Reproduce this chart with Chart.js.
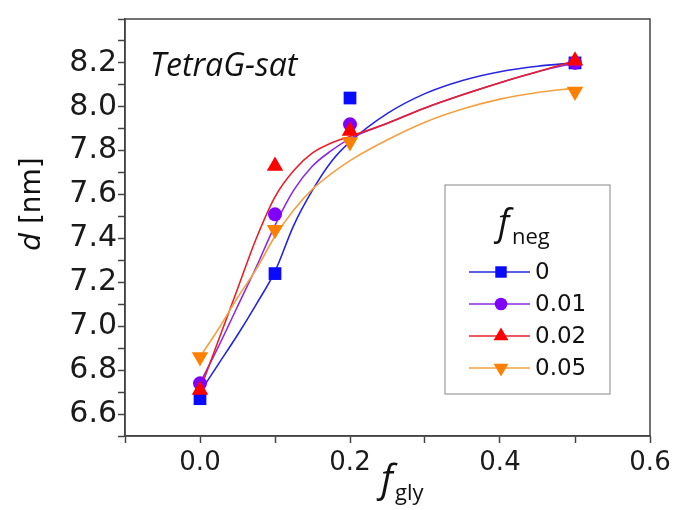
<!DOCTYPE html>
<html>
<head>
<meta charset="utf-8">
<script src="https://cdn.jsdelivr.net/npm/chart.js@4.4.1/dist/chart.umd.min.js"></script>
<style>
    html, body { margin: 0; padding: 0; background: #fff; }
    #chart { display: block; }
</style>
</head>
<body>
<canvas id="chart" width="676" height="510"></canvas>
<script>
// measured points
const fGly = [0, 0.1, 0.2, 0.5];
const dNeg0 = [6.67, 7.24, 8.04, 8.20];
const dNeg001 = [6.74, 7.51, 7.92, 8.20];
const dNeg002 = [6.71, 7.73, 7.89, 8.21];
const dNeg005 = [6.86, 7.44, 7.84, 8.07];

// fitted curves
const curveX = [0, 0.025, 0.05, 0.075, 0.1, 0.125, 0.15, 0.175, 0.2, 0.25, 0.3, 0.35, 0.4, 0.45, 0.5];
const fit0 = [6.70, 6.83, 6.96, 7.10, 7.25, 7.46, 7.62, 7.75, 7.84, 7.97, 8.06, 8.12, 8.16, 8.185, 8.20];
const fit001 = [6.74, 6.91, 7.09, 7.27, 7.46, 7.62, 7.73, 7.80, 7.855, 7.925, 7.995, 8.055, 8.11, 8.16, 8.20];
const fit002 = [6.71, 6.94, 7.17, 7.40, 7.59, 7.71, 7.79, 7.835, 7.865, 7.925, 7.995, 8.055, 8.11, 8.16, 8.21];
const fit005 = [6.86, 6.99, 7.13, 7.26, 7.41, 7.53, 7.625, 7.695, 7.755, 7.85, 7.93, 7.99, 8.035, 8.065, 8.085];

const serieNames = ['0', '0.01', '0.02', '0.05'];
const pontos = [dNeg0, dNeg001, dNeg002, dNeg005];
const curvas = [fit0, fit001, fit002, fit005];

const estilos = [
    { marker: '#0a0aff', linha: '#2626e0', forma: 'rect', raio: 9, rot: 0 },
    { marker: '#8000ff', linha: '#8a2be2', forma: 'circle', raio: 7, rot: 0 },
    { marker: '#ff0000', linha: '#e8202a', forma: 'triangle', raio: 9.5, rot: 0 },
    { marker: '#ff8000', linha: '#f5a040', forma: 'triangle', raio: 9.5, rot: 180 }
];

const paraXY = (xs, ys) => xs.map((x, i) => ({ x: x, y: ys[i] }));

const datasets = [];
curvas.forEach((c, i) => {
    datasets.push({
        label: 'fit ' + serieNames[i],
        data: paraXY(curveX, c),
        showLine: true,
        borderColor: estilos[i].linha,
        borderWidth: 1.6,
        pointRadius: 0,
        pointHoverRadius: 0,
        fill: false,
        cubicInterpolationMode: 'monotone',
        order: 20 - i
    });
});
pontos.forEach((p, i) => {
    datasets.push({
        label: serieNames[i],
        data: paraXY(fGly, p),
        showLine: false,
        pointStyle: estilos[i].forma,
        pointRotation: estilos[i].rot,
        pointRadius: estilos[i].raio,
        pointHoverRadius: estilos[i].raio,
        backgroundColor: estilos[i].marker,
        borderColor: estilos[i].marker,
        borderWidth: 0,
        order: 10 - i
    });
});

// molduras, titulos e legenda
const extras = {
    id: 'extras',
    afterDraw(chart) {
        const ctx = chart.ctx;
        const a = chart.chartArea;
        ctx.save();

        // frame (top/right)
        ctx.strokeStyle = '#444';
        ctx.lineWidth = 1.5;
        ctx.strokeRect(a.left, a.top, a.right - a.left, a.bottom - a.top);

        ctx.fillStyle = '#111';
        ctx.textBaseline = 'alphabetic';

        // label dentro do grafico
        ctx.font = 'italic 32px "Open Sans"';
        ctx.textAlign = 'left';
        ctx.fillText('TetraG-sat', 150, 76);

        // y title
        ctx.save();
        ctx.translate(40, 204);
        ctx.rotate(-Math.PI / 2);
        ctx.font = 'italic 28px "DejaVu Sans"';
        const wD = ctx.measureText('d').width;
        ctx.font = '28px "DejaVu Sans"';
        const wR = ctx.measureText(' [nm]').width;
        const x0 = -(wD + wR) / 2;
        ctx.font = 'italic 28px "DejaVu Sans"';
        ctx.fillText('d', x0, 0);
        ctx.font = '28px "DejaVu Sans"';
        ctx.fillText(' [nm]', x0 + wD, 0);
        ctx.restore();

        // x title
        ctx.font = 'italic 38px "Open Sans"';
        ctx.fillText('f', 381, 492);
        ctx.font = '22px "Open Sans"';
        ctx.fillText('gly', 395, 500);

        // legenda
        ctx.fillStyle = '#fff';
        ctx.fillRect(445, 185, 165, 209);
        ctx.strokeStyle = '#999';
        ctx.lineWidth = 1.2;
        ctx.strokeRect(445, 185, 165, 209);

        ctx.fillStyle = '#111';
        ctx.font = 'italic 36px "Open Sans"';
        ctx.fillText('f', 498, 235);
        ctx.font = '22px "Open Sans"';
        ctx.fillText('neg', 512, 244);

        const linhasY = [272, 304, 336, 368];
        serieNames.forEach((nome, i) => {
            const y = linhasY[i];
            const e = estilos[i];
            ctx.strokeStyle = e.linha;
            ctx.lineWidth = 1.4;
            ctx.beginPath();
            ctx.moveTo(469, y);
            ctx.lineTo(530, y);
            ctx.stroke();
            ctx.fillStyle = e.marker;
            ctx.strokeStyle = e.marker;
            Chart.helpers.drawPoint(ctx, {
                pointStyle: e.forma,
                rotation: e.rot,
                radius: e.raio * 0.9,
                borderWidth: 0
            }, 501, y);
            ctx.fillStyle = '#111';
            ctx.font = '23px "DejaVu Sans"';
            ctx.textBaseline = 'middle';
            ctx.fillText(nome, 535, y + 1);
            ctx.textBaseline = 'alphabetic';
        });

        ctx.restore();
    }
};

const rotuloX = (v) => {
    const k = Math.round(v * 10);
    return (k >= 0 && k % 2 === 0) ? (k / 10).toFixed(1) : '';
};
const rotuloY = (v) => {
    const k = Math.round(v * 10);
    return (k % 2 === 0 && k <= 82) ? (k / 10).toFixed(1) : '';
};

new Chart(document.getElementById('chart').getContext('2d'), {
    type: 'scatter',
    data: { datasets: datasets },
    options: {
        responsive: false,
        animation: false,
        layout: { padding: { top: 14, right: 26, left: 0, bottom: 0 } },
        plugins: {
            legend: { display: false },
            tooltip: { enabled: false }
        },
        scales: {
            x: {
                type: 'linear',
                min: -0.1,
                max: 0.6,
                ticks: {
                    stepSize: 0.1,
                    autoSkip: false,
                    maxRotation: 0,
                    padding: 5,
                    color: '#1a1a1a',
                    font: { family: 'DejaVu Sans', size: 26 },
                    callback: rotuloX
                },
                grid: {
                    drawOnChartArea: false,
                    tickLength: 7,
                    tickColor: '#444',
                    tickWidth: 1.5
                },
                border: { color: '#444', width: 1.5 },
                afterFit: (s) => { s.height = 74; }
            },
            y: {
                type: 'linear',
                min: 6.5,
                max: 8.4,
                ticks: {
                    stepSize: 0.1,
                    autoSkip: false,
                    padding: 1,
                    color: '#1a1a1a',
                    font: { family: 'DejaVu Sans', size: 30 },
                    callback: rotuloY
                },
                grid: {
                    drawOnChartArea: false,
                    tickLength: 7,
                    tickColor: '#444',
                    tickWidth: 1.5
                },
                border: { color: '#444', width: 1.5 },
                afterFit: (s) => { s.width = 125; }
            }
        }
    },
    plugins: [extras]
});
</script>
</body>
</html>
